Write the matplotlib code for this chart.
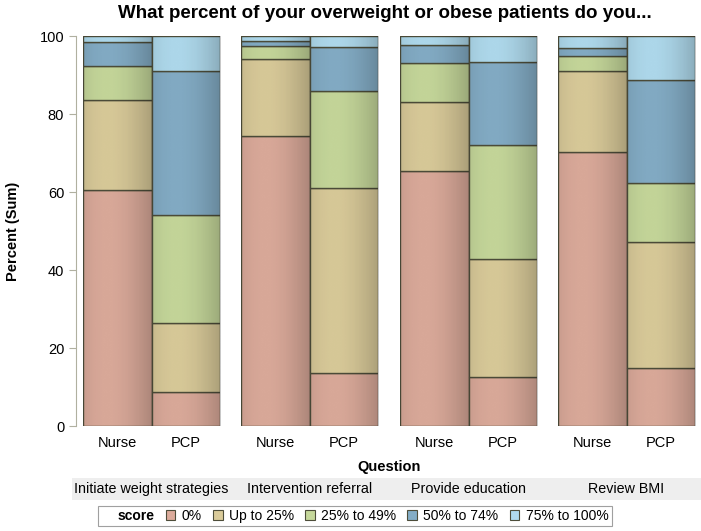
import matplotlib
matplotlib.use("Agg")
import matplotlib.pyplot as plt
import numpy as np
from matplotlib.patches import Rectangle, Patch
from matplotlib.colors import LinearSegmentedColormap

plt.rcParams['font.family'] = ['Liberation Sans', 'DejaVu Sans']

# data: bars ordered question by question, Nurse then PCP
questions = ["Initiate weight strategies", "Intervention referral",
             "Provide education", "Review BMI"]
groups = ["Nurse", "PCP"]
scores = ["0%", "Up to 25%", "25% to 49%", "50% to 74%", "75% to 100%"]

pct_0 = [60.5, 8.7, 74.4, 13.5, 65.3, 12.5, 70.3, 15.0]
pct_upto25 = [23.0, 17.8, 19.6, 47.5, 17.7, 30.3, 20.7, 32.3]
pct_25_49 = [8.8, 27.7, 3.5, 25.0, 10.0, 29.2, 3.8, 14.9]
pct_50_74 = [6.2, 36.8, 1.3, 11.3, 4.7, 21.4, 2.0, 26.4]
pct_75_100 = [1.5, 9.0, 1.2, 2.7, 2.3, 6.6, 3.2, 11.4]

colors = ["#dcab9b", "#dacb9a", "#c6d89b", "#84adc6", "#b0dbee"]
edge = "#4d4d3a"

W, H = 701, 531
fig = plt.figure(figsize=(W / 100, H / 100), dpi=100)

series = [pct_0, pct_upto25, pct_25_49, pct_50_74, pct_75_100]
panel_x = [83, 241, 400, 558]
panel_w = 137
y0, y1 = 426, 36

# shading profile across a bar (cylinder look)
xs = np.linspace(0, 1, 64)
shade = 0.2 * (np.abs(xs - 0.35) / 0.65) ** 1.8 + 0.02
shade_img = np.tile(shade, (2, 1))
shade_cmap = LinearSegmentedColormap.from_list("sh", [(0, 0, 0, 0), (0, 0, 0, 1)])

for qi, q in enumerate(questions):
    ax = fig.add_axes([panel_x[qi] / W, 1 - y0 / H, panel_w / W, (y0 - y1) / H])
    xpos = np.arange(len(groups))
    bottom = np.zeros(len(groups))
    for si, s in enumerate(series):
        vals = np.array(s[qi * 2: qi * 2 + 2])
        ax.bar(xpos, vals, bottom=bottom, width=1.0, color=colors[si],
               edgecolor=edge, linewidth=1.0, zorder=2)
        bottom += vals
    for xp in xpos:
        ax.imshow(shade_img, extent=(xp - 0.5, xp + 0.5, 0, 100), aspect='auto',
                  cmap=shade_cmap, vmin=0, vmax=1, zorder=3, interpolation='bilinear')
    ax.set_xlim(-0.5, 1.5)
    ax.set_ylim(0, 100)
    ax.set_xticks(xpos)
    ax.set_xticklabels(groups, fontsize=10.5)
    ax.tick_params(axis='x', length=0, pad=7)
    for sp in ['top', 'right', 'bottom']:
        ax.spines[sp].set_visible(False)
    if qi == 0:
        ax.spines['left'].set_position(('outward', 5))
        ax.spines['left'].set_color('#b0b0a0')
        ax.set_yticks([0, 20, 40, 60, 80, 100])
        ax.tick_params(axis='y', labelsize=10.5, color='#b0b0a0', length=5)
        ax.set_ylabel("Percent (Sum)", fontsize=10.5, fontweight='bold', labelpad=14)
    else:
        ax.spines['left'].set_visible(False)
        ax.set_yticks([])
    # panel label
    fig.text((panel_x[qi] + panel_w / 2) / W, 1 - 489 / H, q, ha='center',
             va='center', fontsize=10.3)

# gray band behind the question labels
fig.patches.append(Rectangle((72 / W, 1 - 500 / H), 1 - 72 / W, 22 / H,
                             transform=fig.transFigure, facecolor="#eeeeee",
                             edgecolor='none', zorder=0))

fig.text(389 / W, 1 - 467 / H, "Question", ha='center', va='center',
         fontsize=10.5, fontweight='bold')
fig.text(385 / W, 1 - 14 / H, "What percent of your overweight or obese patients do you...",
         ha='center', va='center', fontsize=13.5, fontweight='bold')

handles = [Patch(facecolor='none', edgecolor='none')]
handles += [Patch(facecolor=c, edgecolor=edge, linewidth=0.8) for c in colors]
labels = ["score"] + scores
leg = fig.legend(handles, labels, ncol=6, loc='center', bbox_to_anchor=(355 / W, 1 - 516 / H),
                 fontsize=10, frameon=True, fancybox=False, handlelength=0.7,
                 handleheight=0.7, handletextpad=0.45, columnspacing=0.8,
                 borderpad=0.25, borderaxespad=0)
leg.get_frame().set_edgecolor('#888888')
leg.get_frame().set_linewidth(0.8)
leg.get_texts()[0].set_fontweight('bold')

fig.savefig("out.png", dpi=100)
